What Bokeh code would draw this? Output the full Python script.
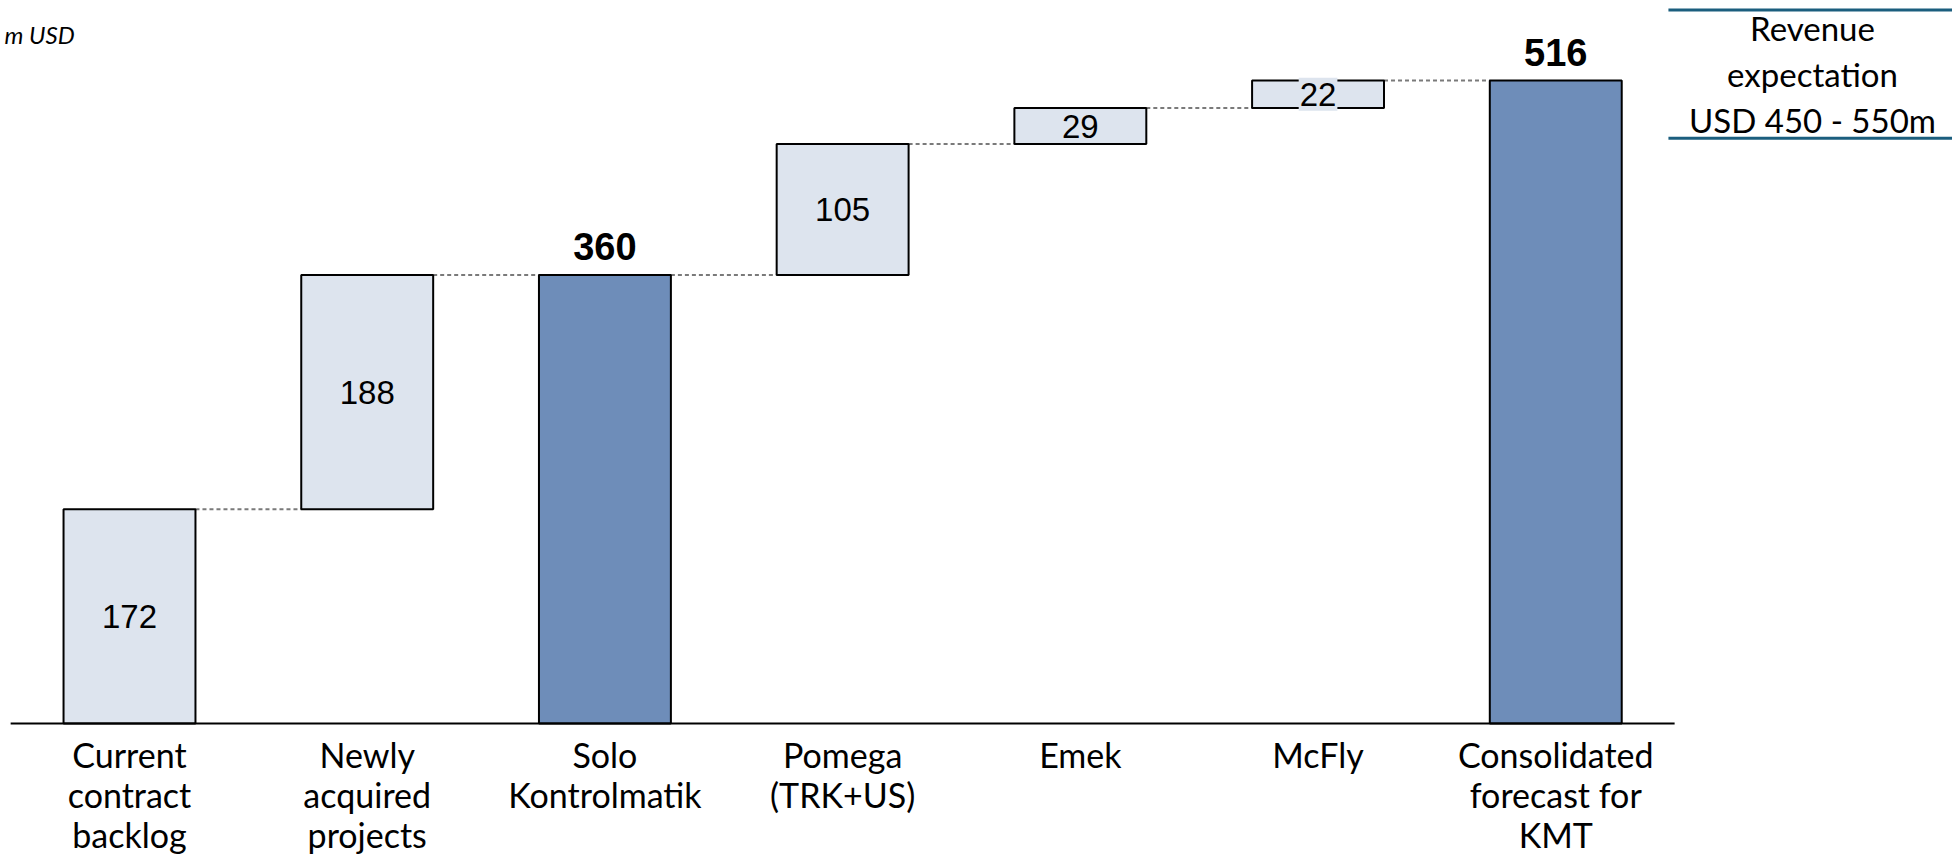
from bokeh.plotting import figure
from bokeh.models import ColumnDataSource, Range1d
from bokeh.core.properties import value
from bokeh.embed import file_html
from bokeh.resources import INLINE

# ---- data ----
categories = ["Current\ncontract\nbacklog", "Newly\nacquired\nprojects", "Solo\nKontrolmatik",
              "Pomega\n(TRK+US)", "Emek", "McFly", "Consolidated\nforecast for\nKMT"]
amounts = [172, 188, 360, 105, 29, 22, 516]
is_total = [False, False, True, False, False, False, True]
unit_label = "m USD"
box_text = "Revenue\nexpectation\nUSD 450 - 550m"

# ---- styling constants ----
LIGHT = "#DDE4EE"
DARK = "#6E8DB9"
TEAL = "#1B5E7E"
BAR_W = 0.555
W, H = 1952, 857

# waterfall geometry from data
bottoms, tops = [], []
running = 0
for a, t in zip(amounts, is_total):
    if t:
        bottoms.append(0); tops.append(a); running = a
    else:
        bottoms.append(running); tops.append(running + a); running += a

xs = list(range(len(categories)))
bars = ColumnDataSource(dict(
    x=xs, bottom=bottoms, top=tops,
    fill=[DARK if t else LIGHT for t in is_total],
))

X0, X1 = -0.5427, 7.669
p = figure(width=W, height=H, output_backend="svg", toolbar_location=None,
           x_range=Range1d(X0, X1), y_range=Range1d(-107.54, 580.26),
           min_border=0, outline_line_color=None)
p.axis.visible = False
p.grid.visible = False
p.background_fill_color = "white"

# connectors
cx0 = [i + BAR_W / 2 for i in xs[:-1]]
cx1 = [i + 1 - BAR_W / 2 for i in xs[:-1]]
cy = tops[:-1]
p.segment(x0=cx0, y0=cy, x1=cx1, y1=cy, line_color="#7A7A7A", line_width=2, line_dash="4 3")

# bars
p.vbar(x="x", width=BAR_W, bottom="bottom", top="top", fill_color="fill",
       line_color="black", line_width=2, source=bars)

# baseline axis line
p.segment(x0=[xs[0] - 0.5], y0=[0], x1=[xs[-1] + 0.5], y1=[0], line_color="black", line_width=2)

# increment labels
inc_idx = [i for i, t in enumerate(is_total) if not t]
inc = ColumnDataSource(dict(
    x=[xs[i] for i in inc_idx],
    y=[(bottoms[i] + tops[i]) / 2 for i in inc_idx],
    t=[str(amounts[i]) for i in inc_idx],
    bg=[LIGHT if amounts[i] < 25 else "rgba(0,0,0,0)" for i in inc_idx],
))
p.text(x="x", y="y", text="t", source=inc, text_font=value("Liberation Sans"),
       text_font_size="33px", text_align="center", text_baseline="middle",
       text_color="black", background_fill_color="bg", padding=(1, 5))

# total labels
tot_idx = [i for i, t in enumerate(is_total) if t]
tot = ColumnDataSource(dict(
    x=[xs[i] for i in tot_idx], y=[tops[i] for i in tot_idx],
    t=[str(amounts[i]) for i in tot_idx],
))
p.text(x="x", y="y", text="t", source=tot, text_font=value("Liberation Sans"),
       text_font_size="38px", text_font_style="bold", text_align="center",
       text_baseline="alphabetic", y_offset=-28, text_color="black")

# category labels
p.text(x=xs, y=[0] * len(xs), text=categories, text_font=value("Lato"),
       text_font_size="34px", text_align="center", text_baseline="top",
       y_offset=10, line_height=0.98, text_color="black")

# unit label
p.text(x=[X0 + 0.017], y=[553.0], text=[unit_label], text_font=value("Lato"),
       text_font_size="24px", text_font_style="italic", text_align="left",
       text_baseline="middle", text_color="black")

# revenue expectation box
p.segment(x0=[6.474, 6.474], y0=[572.6, 469.7], x1=[7.7, 7.7], y1=[572.6, 469.7],
          line_color=TEAL, line_width=3)
p.text(x=[7.080], y=[521.5], text=[box_text], text_font=value("Lato"),
       text_font_size="33px", text_align="center", text_baseline="middle",
       line_height=1.15, text_color="black")

open("out.html", "w").write(file_html(p, INLINE))
